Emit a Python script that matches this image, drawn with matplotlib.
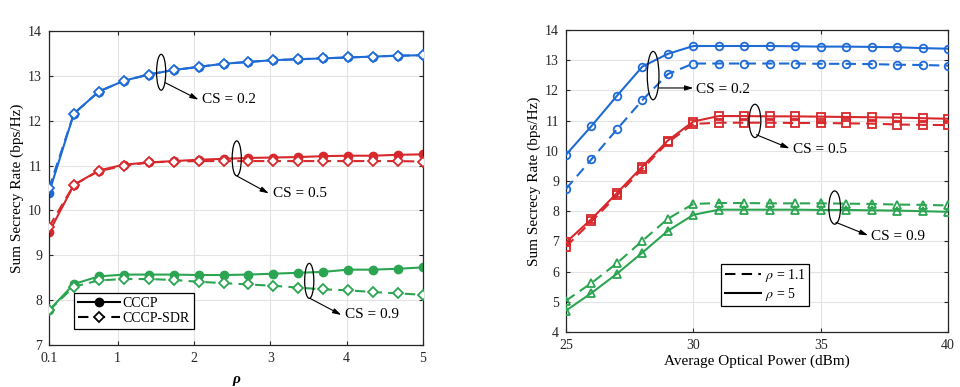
import matplotlib
matplotlib.use("Agg")
import matplotlib.pyplot as plt
import numpy as np
from matplotlib.patches import Ellipse
from matplotlib.lines import Line2D

plt.rcParams['font.family'] = ['Liberation Serif', 'DejaVu Serif']
plt.rcParams['mathtext.fontset'] = 'stix'

# ---------------- data: left panel ----------------
rho = [0.1, 0.427, 0.753, 1.08, 1.407, 1.733, 2.06, 2.387, 2.713, 3.04,
       3.367, 3.693, 4.02, 4.347, 4.673, 5.0]
cccp_02 = [10.39, 12.16, 12.65, 12.89, 13.03, 13.13, 13.20, 13.27, 13.31, 13.35,
           13.37, 13.39, 13.41, 13.43, 13.45, 13.46]
sdr_02 = [10.49, 12.16, 12.65, 12.89, 13.03, 13.13, 13.20, 13.27, 13.31, 13.35,
          13.37, 13.39, 13.41, 13.43, 13.45, 13.46]
cccp_05 = [9.51, 10.57, 10.89, 11.02, 11.07, 11.10, 11.13, 11.15, 11.17, 11.18,
           11.19, 11.21, 11.22, 11.22, 11.24, 11.25]
sdr_05 = [9.63, 10.57, 10.88, 10.99, 11.07, 11.09, 11.10, 11.10, 11.10, 11.10,
          11.10, 11.10, 11.10, 11.10, 11.10, 11.09]
cccp_09 = [7.77, 8.36, 8.53, 8.57, 8.57, 8.57, 8.56, 8.56, 8.57, 8.59,
           8.61, 8.63, 8.68, 8.68, 8.70, 8.73]
sdr_09 = [7.77, 8.30, 8.44, 8.47, 8.47, 8.45, 8.41, 8.38, 8.35, 8.32,
          8.28, 8.24, 8.22, 8.18, 8.15, 8.12]

# ---------------- data: right panel ----------------
power = [25, 26, 27, 28, 29, 30, 31, 32, 33, 34, 35, 36, 37, 38, 39, 40]
r5_02 = [9.87, 10.82, 11.82, 12.79, 13.21, 13.47, 13.47, 13.47, 13.47, 13.46,
         13.45, 13.45, 13.44, 13.43, 13.40, 13.38]
r11_02 = [8.74, 9.72, 10.71, 11.68, 12.54, 12.89, 12.89, 12.89, 12.89, 12.89,
          12.88, 12.88, 12.87, 12.85, 12.84, 12.82]
r5_05 = [6.97, 7.74, 8.60, 9.48, 10.34, 10.97, 11.15, 11.15, 11.14, 11.14,
         11.13, 11.12, 11.11, 11.10, 11.08, 11.06]
r11_05 = [6.83, 7.66, 8.52, 9.40, 10.28, 10.89, 10.93, 10.93, 10.93, 10.92,
          10.92, 10.91, 10.90, 10.87, 10.86, 10.85]
r5_09 = [4.71, 5.29, 5.93, 6.63, 7.35, 7.88, 8.05, 8.05, 8.05, 8.05,
         8.04, 8.04, 8.03, 8.02, 8.00, 7.98]
r11_09 = [5.04, 5.62, 6.28, 7.02, 7.75, 8.24, 8.27, 8.27, 8.26, 8.26,
          8.26, 8.25, 8.24, 8.22, 8.21, 8.19]

left_xticks = [0.1, 1, 2, 3, 4, 5]
left_xticklabels = ['0.1', '1', '2', '3', '4', '5']
left_yticks = [7, 8, 9, 10, 11, 12, 13, 14]
right_xticks = [25, 30, 35, 40]
right_yticks = [4, 5, 6, 7, 8, 9, 10, 11, 12, 13, 14]

BLUE = '#1f6bd6'
RED = '#d7282c'
GREEN = '#2ca552'

fig = plt.figure(figsize=(9.6, 3.87), dpi=100)
ax1 = fig.add_axes([0.051, 0.1085, 0.3896, 0.8114])
ax2 = fig.add_axes([0.5896, 0.1421, 0.3979, 0.7804])


def style_axes(ax):
    ax.grid(True, color='#e3e3e3', linewidth=0.8)
    ax.set_axisbelow(True)
    ax.tick_params(direction='in', top=True, right=True, labelsize=10,
                   length=3, width=0.8, color='#262626', labelcolor='#262626', pad=5)
    for s in ax.spines.values():
        s.set_color('#262626')
        s.set_linewidth(0.9)


lw = 1.5
ms = 5.5
mew = 1.3
dash = (5, 3)

# ---- left panel ----
for yc, ys, c in [(cccp_02, sdr_02, BLUE), (cccp_05, sdr_05, RED), (cccp_09, sdr_09, GREEN)]:
    ax1.plot(rho, ys, color=c, lw=lw, ls=(0, dash), marker='D', ms=ms - 0.8,
             mfc='white', mec=c, mew=mew, zorder=3)
    ax1.plot(rho, yc, color=c, lw=lw, ls='-', marker='o', ms=ms + 0.5,
             mfc=c, mec=c, zorder=2)

ax1.set_xlim(0.1, 5)
ax1.set_ylim(7, 14)
ax1.set_xticks(left_xticks)
ax1.set_xticklabels(left_xticklabels)
ax1.set_yticks(left_yticks)
ax1.set_ylabel('Sum Secrecy Rate (bps/Hz)', fontsize=11, labelpad=3)
ax1.set_xlabel('ρ', fontsize=11, fontweight='bold', fontstyle='italic', labelpad=6)
style_axes(ax1)

arrow = dict(arrowstyle='-|>,head_length=0.5,head_width=0.15', color='black', lw=0.8,
             shrinkA=0, shrinkB=0)
for (ex, ey, ew, eh, ax0, ay0, tx, ty, lab) in [
        (1.57, 13.08, 0.12, 0.80, 1.62, 12.85, 2.06, 12.47, 'CS = 0.2'),
        (2.56, 11.16, 0.12, 0.78, 2.57, 10.76, 2.98, 10.38, 'CS = 0.5'),
        (3.51, 8.43, 0.12, 0.78, 3.52, 8.04, 3.93, 7.67, 'CS = 0.9')]:
    ax1.add_patch(Ellipse((ex, ey), ew, eh, fill=False, ec='black', lw=0.9, zorder=4))
    ax1.annotate('', xy=(tx, ty), xytext=(ax0, ay0), arrowprops=arrow, zorder=4)
    ax1.text(tx + 0.05, ty, lab, fontsize=11, va='center', ha='left')

h1 = [Line2D([], [], color='black', lw=lw, marker='o', ms=ms + 0.5, mfc='black'),
      Line2D([], [], color='black', lw=lw, ls=(0, dash), marker='D', ms=ms - 0.8,
             mfc='white', mew=mew)]
leg1 = ax1.legend(h1, ['CCCP', 'CCCP-SDR'], loc='lower left',
                  bbox_to_anchor=(0.067, 0.051), borderaxespad=0, fontsize=10,
                  fancybox=False, framealpha=1, edgecolor='black', handlelength=3.0,
                  handletextpad=0.2, borderpad=0.3, labelspacing=0.15)
leg1.get_frame().set_linewidth(0.9)

# ---- right panel ----
for y5, y11, c, m in [(r5_02, r11_02, BLUE, 'o'), (r5_05, r11_05, RED, 's'),
                      (r5_09, r11_09, GREEN, '^')]:
    ax2.plot(power, y11, color=c, lw=lw, ls=(0, dash), marker=m, ms=ms,
             mfc='none', mec=c, mew=mew, zorder=3)
    ax2.plot(power, y5, color=c, lw=lw, ls='-', marker=m, ms=ms,
             mfc='none', mec=c, mew=mew, zorder=3)

ax2.set_xlim(25, 40)
ax2.set_ylim(4, 14)
ax2.set_xticks(right_xticks)
ax2.set_yticks(right_yticks)
ax2.set_ylabel('Sum Secrecy Rate (bps/Hz)', fontsize=11, labelpad=3)
ax2.set_xlabel('Average Optical Power (dBm)', fontsize=11, labelpad=2)
style_axes(ax2)

for (ex, ey, ew, eh, ax0, ay0, tx, ty, lab) in [
        (28.42, 12.49, 0.46, 1.60, 28.65, 12.08, 30.0, 12.08, 'CS = 0.2'),
        (32.42, 10.99, 0.46, 1.10, 32.48, 10.53, 33.78, 10.08, 'CS = 0.5'),
        (35.55, 8.12, 0.46, 1.10, 35.60, 7.63, 36.86, 7.20, 'CS = 0.9')]:
    ax2.add_patch(Ellipse((ex, ey), ew, eh, fill=False, ec='black', lw=0.9, zorder=4))
    ax2.annotate('', xy=(tx, ty), xytext=(ax0, ay0), arrowprops=arrow, zorder=4)
    ax2.text(tx + 0.12, ty - 0.05, lab, fontsize=11, va='center', ha='left')

h2 = [Line2D([], [], color='black', lw=lw, ls=(0, dash)),
      Line2D([], [], color='black', lw=lw)]
leg2 = ax2.legend(h2, [r'$\rho$ = 1.1', r'$\rho$ = 5'], loc='lower left',
                  bbox_to_anchor=(0.406, 0.086), borderaxespad=0, fontsize=10,
                  fancybox=False, framealpha=1, edgecolor='black', handlelength=2.6,
                  handletextpad=0.3, borderpad=0.25, labelspacing=0.1)
leg2.get_frame().set_linewidth(0.9)

fig.savefig('out.png', dpi=100)
